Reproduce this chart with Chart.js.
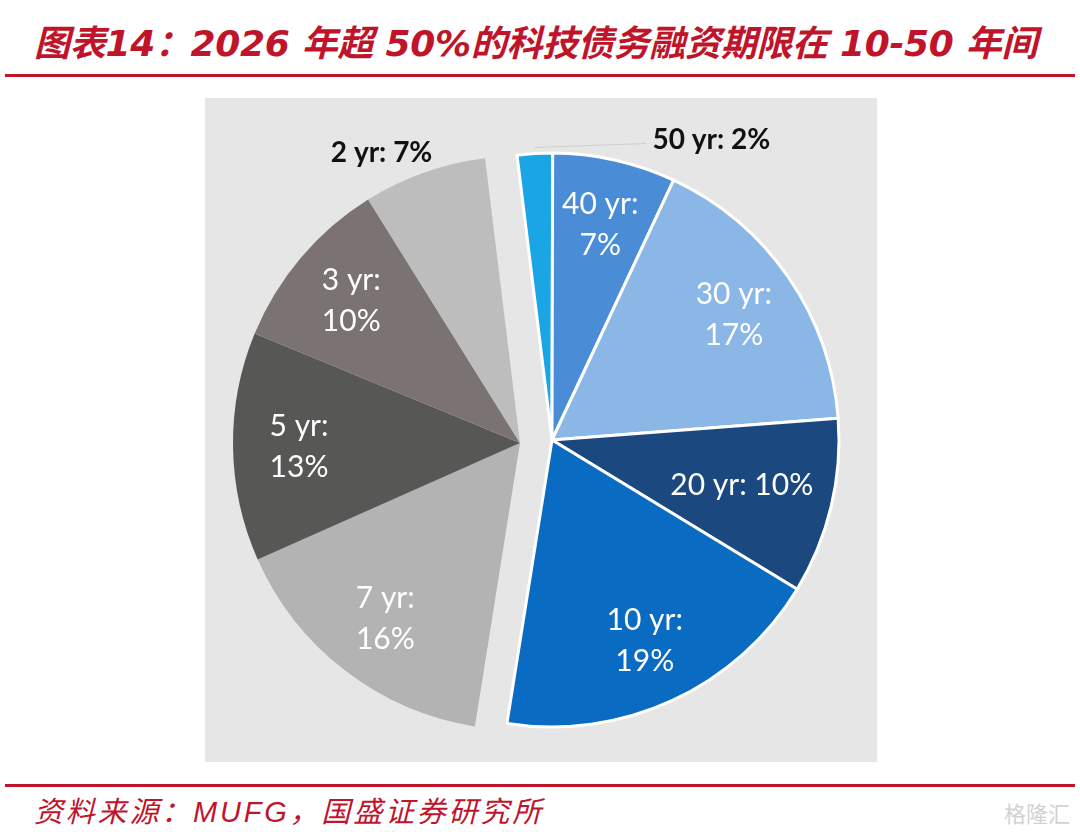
<!DOCTYPE html>
<html lang="zh-CN">
<head>
    <meta charset="UTF-8">
    <title>科技债务融资期限</title>
    <script src="https://cdn.jsdelivr.net/npm/chart.js"></script>
    <style>
        body {
            margin: 0;
            width: 1080px;
            height: 832px;
            background: #fff;
            position: relative;
            overflow: hidden;
            font-family: "Noto Sans CJK SC", sans-serif;
        }

        .title {
            position: absolute;
            left: 34px;
            top: 14px;
            font-size: 36px;
            font-weight: bold;
            font-style: italic;
            color: #C0142B;
            white-space: nowrap;
            font-family: "DejaVu Sans", "Noto Sans CJK SC", sans-serif;
            letter-spacing: -0.3px;
        }

        .rule {
            position: absolute;
            left: 5px;
            width: 1070px;
            height: 3px;
            background: #C0142B;
        }

        .panel {
            position: absolute;
            left: 205px;
            top: 98px;
            width: 672px;
            height: 664px;
            background: #E6E6E6;
        }

        canvas {
            position: absolute;
        }

        .source {
            position: absolute;
            left: 34px;
            top: 788px;
            font-size: 29px;
            font-style: italic;
            color: #C0142B;
            letter-spacing: 2.8px;
            font-family: "Liberation Sans", "Noto Sans CJK SC", sans-serif;
        }

        .mark {
            position: absolute;
            right: 10px;
            top: 796px;
            font-size: 22px;
            color: #d2d2d2;
        }
    </style>
</head>

<body>
    <div class="title">图表14：2026 年超 50%的科技债务融资期限在 10-50 年间</div>
    <div class="rule" style="top:74px"></div>
    <div class="panel"></div>

    <canvas id="greyPie" width="640" height="640" style="left:200px; top:123px"></canvas>
    <canvas id="bluePie" width="640" height="640" style="left:232px; top:120px"></canvas>

    <div class="rule" style="top:784px"></div>
    <div class="source">资料来源：MUFG，国盛证券研究所</div>
    <div class="mark">格隆汇</div>

    <script>
        // 数据（顺时针，从顶部开始）
        const tenors = ['50 yr', '40 yr', '30 yr', '20 yr', '10 yr', '7 yr', '5 yr', '3 yr', '2 yr'];
        const shares = [2, 7, 17, 10, 19, 16, 13, 10, 7];
        const groups = ['blue', 'blue', 'blue', 'blue', 'blue', 'grey', 'grey', 'grey', 'grey'];
        const sliceColors = ['#1AA6E4', '#4A8DD6', '#8BB7E6', '#1C4880', '#0A6BC2', '#B3B3B3', '#575756', '#7A7371', '#BDBDBD'];

        // 标签样式：两行 / 单行 / 外部
        const singleLine = ['20 yr'];
        const outside = {
            '50 yr': { dx: 118, dy: -8, align: 'left', leader: true },
            '2 yr': { dx: 10, dy: -14, align: 'right', leader: false }
        };

        // 在扇形上写标签
        const sliceLabels = {
            id: 'sliceLabels',
            afterDatasetsDraw(chart, args, opts) {
                const ctx = chart.ctx;
                const meta = chart.getDatasetMeta(0);
                meta.data.forEach((arc, i) => {
                    if (groups[i] !== opts.group) return;
                    const p = arc.getProps(['x', 'y', 'startAngle', 'endAngle', 'outerRadius'], true);
                    const mid = (p.startAngle + p.endAngle) / 2;
                    const name = tenors[i];
                    const text = name + ': ' + shares[i] + '%';
                    ctx.save();
                    ctx.textBaseline = 'middle';
                    if (outside[name]) {
                        const o = outside[name];
                        const bx = p.x + Math.cos(mid) * (p.outerRadius + 6);
                        const by = p.y + Math.sin(mid) * (p.outerRadius + 6);
                        if (o.leader) {
                            ctx.strokeStyle = '#cfcfcf';
                            ctx.lineWidth = 1;
                            ctx.beginPath();
                            ctx.moveTo(bx, by);
                            ctx.lineTo(bx + o.dx - 6, by + o.dy + 4);
                            ctx.stroke();
                        }
                        ctx.font = 'bold 28px Lato, "Open Sans", sans-serif';
                        ctx.fillStyle = '#111';
                        ctx.textAlign = o.align;
                        ctx.fillText(text, bx + o.dx, by + o.dy);
                    } else {
                        const single = singleLine.includes(name);
                        const r = p.outerRadius * (single ? 0.68 : 0.77);
                        const x = p.x + Math.cos(mid) * r;
                        const y = p.y + Math.sin(mid) * r;
                        ctx.font = '30px Lato, "Open Sans", sans-serif';
                        ctx.fillStyle = '#fff';
                        ctx.textAlign = 'center';
                        if (single) {
                            ctx.fillText(text, x, y);
                        } else {
                            ctx.fillText(name + ':', x, y - 20);
                            ctx.fillText(shares[i] + '%', x, y + 21);
                        }
                    }
                    ctx.restore();
                });
            }
        };

        // 两组扇形分开绘制，各自整体偏移
        function makePie(canvasId, group) {
            const ctx = document.getElementById(canvasId).getContext('2d');
            return new Chart(ctx, {
                type: 'pie',
                data: {
                    labels: tenors,
                    datasets: [{
                        data: shares,
                        backgroundColor: sliceColors.map((c, i) => groups[i] === group ? c : 'rgba(0,0,0,0)'),
                        borderColor: '#fff',
                        borderWidth: groups.map(g => (g === group && group === 'blue') ? 3 : 0),
                        hoverOffset: 0
                    }]
                },
                options: {
                    responsive: false,
                    animation: false,
                    radius: 287,
                    rotation: -7,
                    layout: { padding: 0 },
                    events: [],
                    plugins: {
                        legend: { display: false },
                        tooltip: { enabled: false },
                        sliceLabels: { group: group }
                    }
                },
                plugins: [sliceLabels]
            });
        }

        makePie('greyPie', 'grey');
        makePie('bluePie', 'blue');
    </script>
</body>

</html>
